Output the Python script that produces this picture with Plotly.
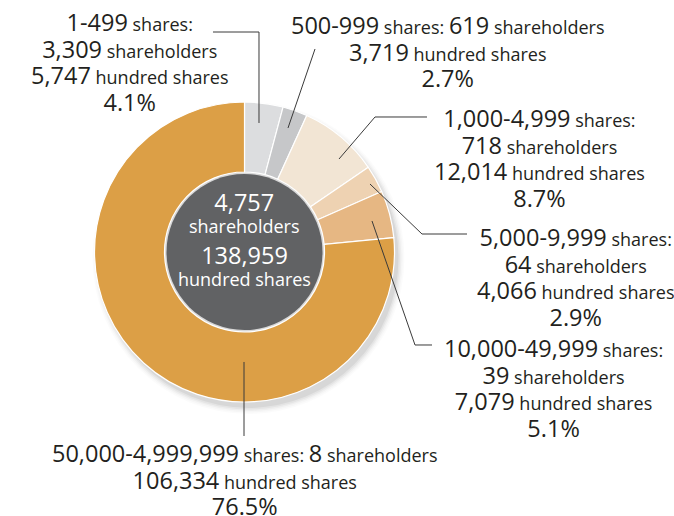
import plotly.graph_objects as go

# ---- data ----
ranges = ["1-499", "500-999", "1,000-4,999", "5,000-9,999", "10,000-49,999", "50,000-4,999,999"]
shareholders = [3309, 619, 718, 64, 39, 8]
hundred_shares = [5747, 3719, 12014, 4066, 7079, 106334]
percent = [4.1, 2.7, 8.7, 2.9, 5.1, 76.5]
colors = ["#dcdddf", "#c6c7c9", "#f2e5d4", "#eed2b2", "#e6b783", "#dc9f46"]

total_shareholders = sum(shareholders)
total_hundred_shares = sum(hundred_shares)

# ---- layout helpers ----
W, H = 674, 516
cx, cy, R = 244.5, 252, 150
R_HOLE = 80
R_CENTER = 78
FONT = "Open Sans"
TXT = "#231f20"
BIG, SMALL = 23.5, 18
GAP = 26.5


def px(x):
    return x / W


def py(y):
    return 1 - y / H


def big(s):
    return f'<span style="font-size:{BIG}px">{s}</span>'


def small(s):
    return f'<span style="font-size:{SMALL}px">{s}</span>'


fig = go.Figure()
fig.add_trace(go.Pie(
    values=hundred_shares,
    labels=ranges,
    sort=False,
    direction="clockwise",
    rotation=0,
    hole=R_HOLE / R,
    marker=dict(colors=colors, line=dict(color="white", width=1.2)),
    textinfo="none",
    hoverinfo="label+value+percent",
    domain=dict(x=[px(cx - R), px(cx + R)], y=[py(cy + R), py(cy - R)]),
    showlegend=False,
))

shapes = []
# soft shadow
for k, a in enumerate([0.05, 0.04, 0.03, 0.02, 0.015]):
    r = R + k * 1.5
    ox, oy = 4, 6
    shapes.append(dict(type="circle", xref="paper", yref="paper", layer="below",
                       x0=px(cx + ox - r), x1=px(cx + ox + r),
                       y0=py(cy + oy + r), y1=py(cy + oy - r),
                       fillcolor=f"rgba(0,0,0,{a})", line=dict(width=0)))
# center disc
shapes.append(dict(type="circle", xref="paper", yref="paper",
                   x0=px(cx - R_CENTER), x1=px(cx + R_CENTER),
                   y0=py(cy + R_CENTER), y1=py(cy - R_CENTER),
                   fillcolor="#616264", line=dict(width=0)))

# leader lines (pixel paths)
leaders = [
    [(213, 32), (259, 32), (259, 123)],
    [(315, 49), (288, 128)],
    [(427, 117), (375, 117), (339, 159)],
    [(370, 184), (422, 234), (467, 234)],
    [(372, 221), (415, 345), (432, 345)],
    [(244, 362), (244, 436)],
]
for pts in leaders:
    path = "M " + " L ".join(f"{px(x):.5f},{py(y):.5f}" for x, y in pts)
    shapes.append(dict(type="path", xref="paper", yref="paper", path=path,
                       line=dict(color="#3a3a3a", width=1)))

annotations = []
block_x = [129, 447, 539, 575, 553, 244]
block_y0 = [22, 25, 118, 237, 348, 453]
for i in range(len(ranges)):
    sh = f"{shareholders[i]:,}"
    hs = f"{hundred_shares[i]:,}"
    pc = f"{percent[i]:.1f}%"
    if i in (1, 5):
        lines = [f"{big(ranges[i])}{small(' shares: ')}{big(sh)}{small(' shareholders')}",
                 f"{big(hs)}{small(' hundred shares')}", big(pc)]
    else:
        lines = [f"{big(ranges[i])}{small(' shares:')}", f"{big(sh)}{small(' shareholders')}",
                 f"{big(hs)}{small(' hundred shares')}", big(pc)]
    n = len(lines)
    ymid = block_y0[i] + (n - 1) * GAP / 2
    annotations.append(dict(x=px(block_x[i]), y=py(ymid),
                            xref="paper", yref="paper", text="<br>".join(lines),
                            showarrow=False, xanchor="center", yanchor="middle",
                            font=dict(family=FONT, size=GAP / 1.3, color=TXT)))

# centre summary: two 2-line groups
center_groups = [
    ([big(f"{total_shareholders:,}"), small("shareholders")], 201, 22),
    ([big(f"{total_hundred_shares:,}"), small("hundred shares")], 254, 22),
]
for lines, y0, gap in center_groups:
    annotations.append(dict(x=px(cx), y=py(y0 + gap / 2), xref="paper", yref="paper",
                            text="<br>".join(lines), showarrow=False,
                            xanchor="center", yanchor="middle",
                            font=dict(family=FONT, size=gap / 1.3, color="white")))

fig.update_layout(
    width=W, height=H,
    margin=dict(l=0, r=0, t=0, b=0),
    paper_bgcolor="white", plot_bgcolor="white",
    shapes=shapes, annotations=annotations,
)

fig.write_html("out.html", config={"displayModeBar": False},
               post_script="document.body.style.margin='0';")
